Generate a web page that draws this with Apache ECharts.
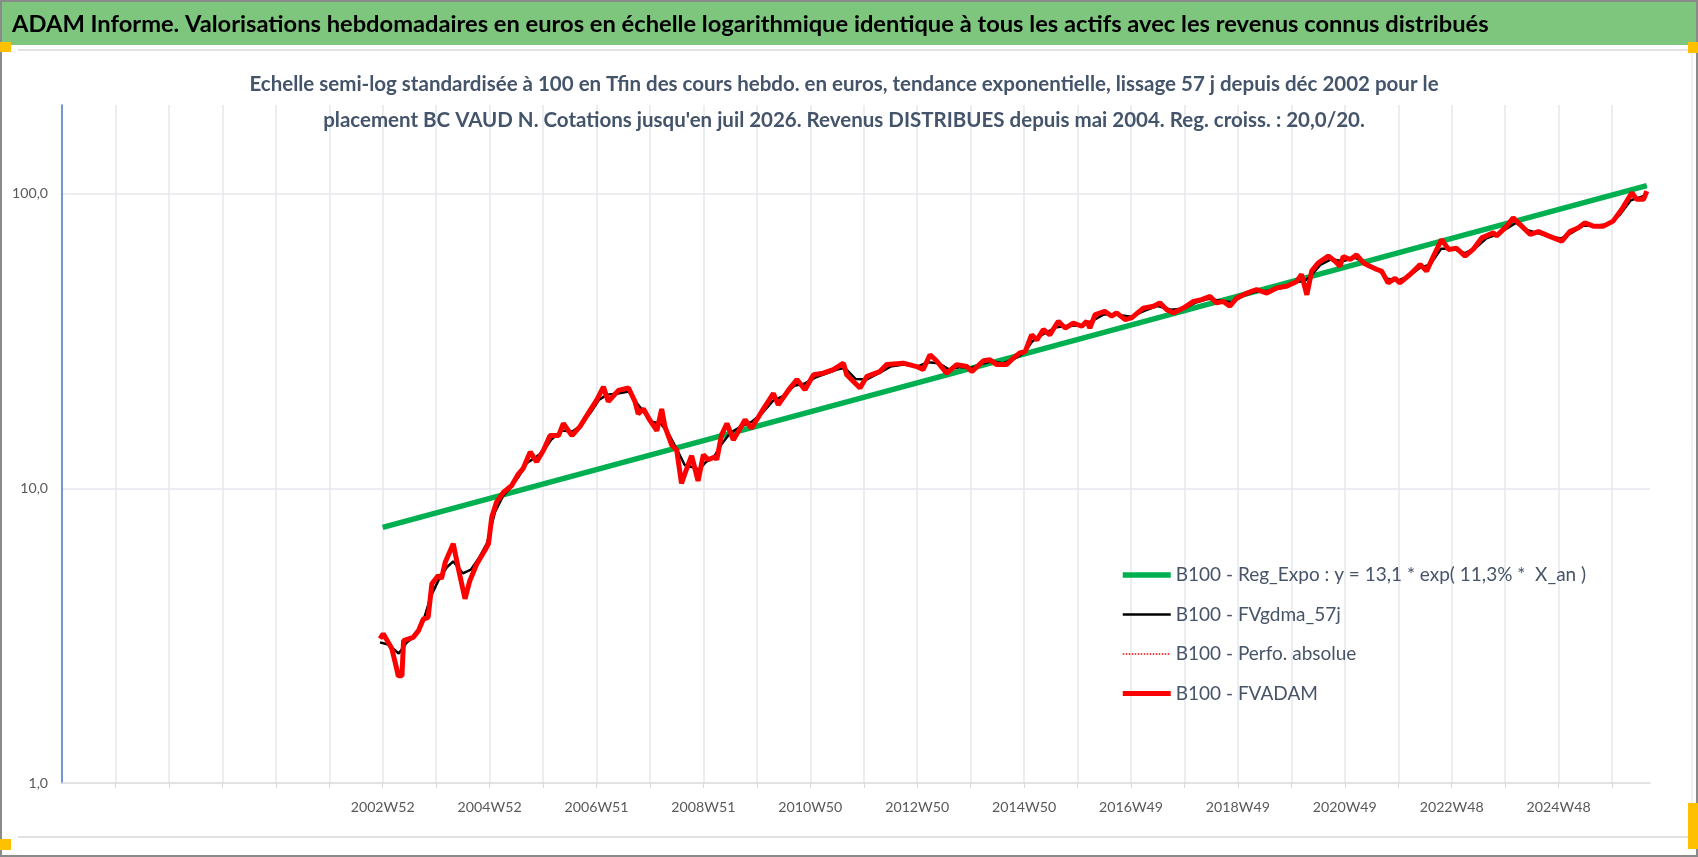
<!DOCTYPE html>
<html>
<head>
<meta charset="utf-8">
<title>ADAM Informe - BC VAUD N</title>
<script src="https://cdn.jsdelivr.net/npm/echarts@6/dist/echarts.min.js"></script>
<style>
  html, body { margin: 0; padding: 0; background: #fff; }
  #chart { width: 1698px; height: 857px; }
</style>
</head>
<body>
<div id="chart"></div>
<script>
// textes
var mainTitle = 'ADAM Informe. Valorisations hebdomadaires en euros en échelle logarithmique identique à tous les actifs avec les revenus connus distribués';
var subTitle1 = 'Echelle semi-log standardisée à 100 en Tfin des cours hebdo. en euros, tendance exponentielle, lissage 57 j depuis déc 2002 pour le';
var subTitle2 = 'placement BC VAUD N. Cotations jusqu\'en juil 2026. Revenus DISTRIBUES depuis mai 2004. Reg. croiss. : 20,0/20.';

// libellés de l'axe X (un tous les 2 ans, à partir de fin 2002)
var xTickLabels = ['2002W52', '2004W52', '2006W51', '2008W51', '2010W50', '2012W50',
  '2014W50', '2016W49', '2018W49', '2020W49', '2022W48', '2024W48'];

var seriesNames = [
  'B100 - Reg_Expo : y = 13,1 * exp( 11,3% *  X_an )',
  'B100 - FVgdma_57j',
  'B100 - Perfo. absolue',
  'B100 - FVADAM'
];

// tendance exponentielle (droite en échelle log) : [année, valeur]
var trendData = [[2003.0, 7.37], [2026.65, 106.5]];

// FVADAM : [année, valeur]
var fvadamData = [
  [2002.95, 3.09], [2003.01, 3.21], [2003.17, 2.86], [2003.26, 2.45], [2003.29, 2.31],
  [2003.36, 2.31], [2003.39, 3.04], [2003.57, 3.12], [2003.67, 3.29], [2003.76, 3.6],
  [2003.85, 3.65], [2003.92, 4.74], [2004.04, 5.06], [2004.10, 4.94], [2004.17, 5.61],
  [2004.32, 6.48], [2004.41, 5.4], [2004.54, 4.22], [2004.63, 4.86], [2004.76, 5.54],
  [2004.91, 6.15], [2004.98, 6.5], [2005.04, 7.98], [2005.13, 8.98], [2005.26, 9.7],
  [2005.41, 10.2], [2005.54, 11.2], [2005.63, 11.7], [2005.76, 13.3], [2005.88, 12.3],
  [2006.01, 13.5], [2006.13, 15.1], [2006.29, 15.1], [2006.38, 16.6], [2006.54, 15.1],
  [2006.69, 16.2], [2006.88, 18.4], [2007.00, 19.9], [2007.13, 22.1], [2007.22, 19.7],
  [2007.41, 21.5], [2007.60, 21.9], [2007.72, 19.7], [2007.78, 17.9], [2007.88, 18.6],
  [2008.00, 17.0], [2008.13, 15.7], [2008.22, 18.6], [2008.28, 16.2], [2008.41, 14.0],
  [2008.50, 13.5], [2008.59, 10.4], [2008.69, 11.7], [2008.78, 12.9], [2008.90, 10.6],
  [2009.00, 13.0], [2009.09, 12.5], [2009.22, 12.8], [2009.25, 12.5], [2009.34, 15.2],
  [2009.44, 16.6], [2009.56, 14.6], [2009.78, 17.1], [2009.90, 16.0], [2010.09, 18.2],
  [2010.31, 21.0], [2010.40, 19.2], [2010.62, 21.9], [2010.75, 23.4], [2010.90, 21.6],
  [2011.06, 24.3], [2011.24, 24.6], [2011.43, 25.3], [2011.62, 26.6], [2011.68, 24.3],
  [2011.93, 21.9], [2012.06, 24.0], [2012.30, 24.9], [2012.43, 26.3], [2012.74, 26.6],
  [2012.99, 25.9], [2013.11, 25.3], [2013.24, 28.4], [2013.36, 27.1], [2013.55, 24.6],
  [2013.74, 26.3], [2013.93, 25.9], [2014.02, 24.9], [2014.24, 27.1], [2014.36, 27.3],
  [2014.49, 26.3], [2014.67, 26.3], [2014.80, 27.7], [2014.92, 28.8], [2015.02, 29.1],
  [2015.14, 33.2], [2015.24, 31.9], [2015.36, 34.6], [2015.48, 33.2], [2015.64, 36.9],
  [2015.77, 35.0], [2015.92, 36.4], [2016.08, 35.5], [2016.17, 36.9], [2016.23, 35.0],
  [2016.33, 38.9], [2016.51, 39.9], [2016.64, 38.4], [2016.73, 39.4], [2016.89, 37.4],
  [2017.01, 37.9], [2017.23, 40.9], [2017.42, 41.5], [2017.54, 42.6], [2017.67, 40.4],
  [2017.79, 39.4], [2017.98, 40.9], [2018.17, 43.1], [2018.32, 43.7], [2018.48, 44.8],
  [2018.60, 42.6], [2018.73, 43.1], [2018.85, 41.5], [2018.98, 44.3], [2019.17, 46.0],
  [2019.35, 47.3], [2019.54, 46.0], [2019.73, 47.9], [2019.91, 48.5], [2020.10, 50.4],
  [2020.19, 53.2], [2020.29, 45.4], [2020.38, 54.6], [2020.50, 58.2], [2020.69, 61.4],
  [2020.82, 59.0], [2020.91, 56.7], [2020.97, 61.2], [2021.10, 59.8], [2021.22, 62.0],
  [2021.35, 58.2], [2021.47, 56.7], [2021.60, 55.3], [2021.69, 54.6], [2021.81, 49.8],
  [2021.94, 51.6], [2022.03, 49.8], [2022.22, 53.2], [2022.41, 57.5], [2022.53, 54.6],
  [2022.66, 61.4], [2022.81, 69.9], [2022.94, 64.7], [2023.09, 65.3], [2023.25, 61.4],
  [2023.40, 64.7], [2023.56, 70.8], [2023.78, 73.6], [2023.84, 71.9], [2024.03, 77.6],
  [2024.15, 82.8], [2024.31, 77.6], [2024.47, 72.7], [2024.62, 74.4], [2024.81, 71.9],
  [2025.06, 69.0], [2025.21, 74.4], [2025.37, 76.6], [2025.49, 79.6], [2025.65, 77.6],
  [2025.84, 77.6], [2026.02, 80.7], [2026.18, 88.4], [2026.37, 100.8], [2026.46, 95.7],
  [2026.59, 95.7], [2026.65, 102.0]
];

// FVgdma_57j (moyenne lissée) : [année, valeur]
var gdmaData = [
  [2002.95, 3.0], [2003.1, 2.95], [2003.3, 2.75], [2003.45, 3.0], [2003.6, 3.15],
  [2003.75, 3.5], [2003.9, 4.3], [2004.05, 4.9], [2004.2, 5.4], [2004.32, 5.65],
  [2004.5, 5.15], [2004.65, 5.3], [2004.8, 5.8], [2004.95, 6.5], [2005.1, 8.3],
  [2005.25, 9.4], [2005.4, 10.1], [2005.55, 11.0], [2005.7, 12.2], [2005.85, 12.7],
  [2006.0, 13.3], [2006.15, 14.6], [2006.35, 15.7], [2006.55, 15.6], [2006.7, 16.3],
  [2006.9, 18.2], [2007.05, 20.0], [2007.2, 20.8], [2007.4, 21.0], [2007.6, 21.3],
  [2007.75, 19.5], [2007.9, 18.0], [2008.05, 16.8], [2008.2, 16.6], [2008.35, 15.3],
  [2008.5, 13.6], [2008.65, 12.0], [2008.8, 11.8], [2008.92, 11.6], [2009.05, 12.3],
  [2009.2, 12.8], [2009.35, 14.2], [2009.5, 15.4], [2009.7, 16.2], [2009.9, 16.8],
  [2010.1, 18.0], [2010.3, 19.8], [2010.5, 20.6], [2010.7, 22.3], [2010.9, 22.7],
  [2011.1, 23.8], [2011.3, 24.5], [2011.5, 25.3], [2011.65, 25.6], [2011.85, 23.5],
  [2012.05, 23.4], [2012.3, 24.7], [2012.5, 25.9], [2012.75, 26.3], [2013.0, 25.9],
  [2013.2, 26.8], [2013.4, 26.6], [2013.6, 25.3], [2013.8, 25.8], [2014.0, 25.6],
  [2014.2, 26.4], [2014.4, 27.0], [2014.6, 26.6], [2014.8, 27.4], [2015.0, 28.8],
  [2015.15, 31.5], [2015.35, 33.3], [2015.6, 35.2], [2015.85, 35.6], [2016.1, 35.8],
  [2016.3, 37.2], [2016.5, 39.0], [2016.75, 38.8], [2017.0, 38.2], [2017.25, 40.0],
  [2017.5, 41.6], [2017.75, 40.4], [2018.0, 40.8], [2018.2, 42.6], [2018.45, 44.0],
  [2018.7, 43.2], [2018.9, 42.8], [2019.1, 45.0], [2019.35, 46.6], [2019.6, 46.8],
  [2019.85, 48.0], [2020.1, 50.2], [2020.25, 50.5], [2020.4, 53.5], [2020.55, 57.5],
  [2020.75, 60.0], [2020.95, 59.0], [2021.2, 60.6], [2021.4, 58.0], [2021.6, 55.6],
  [2021.8, 51.5], [2022.0, 50.8], [2022.2, 52.5], [2022.4, 56.0], [2022.6, 57.5],
  [2022.8, 65.0], [2023.0, 65.2], [2023.25, 62.8], [2023.45, 65.5], [2023.65, 70.5],
  [2023.85, 72.8], [2024.05, 76.5], [2024.2, 79.5], [2024.4, 75.5], [2024.6, 73.5],
  [2024.85, 71.5], [2025.05, 70.5], [2025.25, 73.8], [2025.45, 77.8], [2025.7, 77.8],
  [2025.95, 79.0], [2026.15, 85.0], [2026.35, 95.0], [2026.5, 97.0], [2026.65, 99.0]
];

// taille de police ajustée sur la largeur mesurée dans l'original
var FONT = 'Lato, "Noto Sans", sans-serif';
function fitSize(text, weight, width) {
  var ctx = document.createElement('canvas').getContext('2d');
  ctx.font = weight + ' 100px ' + FONT;
  return Math.round(1000 * width / ctx.measureText(text).width) / 10;
}
var titleSize = fitSize(mainTitle, 'bold', 1480);
var subSize = fitSize(subTitle1, 'bold', 1188);
var legendSize = fitSize('B100 - FVADAM', 'normal', 142);
var xLabelSize = fitSize('2002W52', 'normal', 64);
var yLabelSize = fitSize('100,0', 'normal', 36);

var chart = echarts.init(document.getElementById('chart'));

var option = {
  animation: false,
  backgroundColor: '#fff',
  graphic: [
    // cadre
    { type: 'rect', shape: { x: 1, y: 1, width: 1696, height: 855 },
      style: { fill: 'none', stroke: '#8a8a8a', lineWidth: 2 }, z: 0 },
    { type: 'rect', shape: { x: 2, y: 2, width: 1694, height: 43 },
      style: { fill: '#7ec57e' }, z: 0 },
    { type: 'line', shape: { x1: 18, y1: 50, x2: 1692, y2: 50 },
      style: { stroke: '#e2e2e2', lineWidth: 2 }, z: 0 },
    { type: 'line', shape: { x1: 18, y1: 837, x2: 1692, y2: 837 },
      style: { stroke: '#e2e2e2', lineWidth: 2 }, z: 0 },
    { type: 'line', shape: { x1: 1692, y1: 50, x2: 1692, y2: 837 },
      style: { stroke: '#e2e2e2', lineWidth: 1 }, z: 0 },
    // poignées orange
    { type: 'rect', shape: { x: 0, y: 42, width: 11, height: 10 }, style: { fill: '#ffc000' }, z: 1 },
    { type: 'rect', shape: { x: 1688, y: 42, width: 10, height: 11 }, style: { fill: '#ffc000' }, z: 1 },
    { type: 'rect', shape: { x: 0, y: 839, width: 11, height: 11 }, style: { fill: '#ffc000' }, z: 1 },
    { type: 'rect', shape: { x: 1688, y: 803, width: 10, height: 46 }, style: { fill: '#ffc000' }, z: 1 },
    // titres
    { type: 'text', x: 12, y: 24, z: 5,
      style: { text: mainTitle, fill: '#000', font: 'bold ' + titleSize + 'px ' + FONT,
        align: 'left', verticalAlign: 'middle' } },
    { type: 'text', x: 844, y: 84, z: 5,
      style: { text: subTitle1, fill: '#44546a', font: 'bold ' + subSize + 'px ' + FONT,
        align: 'center', verticalAlign: 'middle' } },
    { type: 'text', x: 844, y: 120, z: 5,
      style: { text: subTitle2, fill: '#44546a', font: 'bold ' + subSize + 'px ' + FONT,
        align: 'center', verticalAlign: 'middle' } }
  ],
  grid: {
    left: 62,
    right: 48,
    top: 105,
    bottom: 74
  },
  legend: {
    orient: 'vertical',
    left: 1120,
    top: 565,
    padding: 0,
    itemWidth: 48,
    itemHeight: 20,
    itemGap: 19.5,
    data: seriesNames,
    itemStyle: { opacity: 0 },
    lineStyle: { width: 'inherit' },
    textStyle: {
      color: '#475468',
      fontFamily: FONT,
      fontSize: legendSize,
      lineHeight: 20
    }
  },
  xAxis: {
    type: 'value',
    min: 1997,
    max: 2026.71,
    interval: 1,
    axisLine: { lineStyle: { color: '#d9d9d9', width: 1.5 } },
    axisTick: { show: true, length: 5, lineStyle: { color: '#d9d9d9' } },
    splitLine: {
      show: true,
      showMinLine: false,
      showMaxLine: false,
      lineStyle: { color: '#e4e7ec', width: 1.5 }
    },
    axisLabel: {
      margin: 17,
      color: '#595959',
      fontFamily: FONT,
      fontSize: xLabelSize,
      showMinLabel: false,
      showMaxLabel: false,
      formatter: function (v) {
        var k = (v - 2003) / 2;
        var r = Math.round(k);
        if (Math.abs(k - r) < 1e-6 && r >= 0 && r < xTickLabels.length) {
          return xTickLabels[r];
        }
        return '';
      }
    }
  },
  yAxis: {
    type: 'log',
    logBase: 10,
    min: 1,
    max: 200,
    axisLine: { show: true, lineStyle: { color: '#4472c4', width: 1.5 } },
    axisTick: { show: false },
    splitLine: {
      show: true,
      showMinLine: false,
      showMaxLine: false,
      lineStyle: { color: '#e4e7ec', width: 1.5 }
    },
    axisLabel: {
      margin: 14,
      color: '#595959',
      fontFamily: FONT,
      fontSize: yLabelSize,
      showMaxLabel: false,
      formatter: function (v) {
        var l = Math.log(v) / Math.LN10;
        if (Math.abs(l - Math.round(l)) > 1e-6) return '';
        return v.toFixed(1).replace('.', ',');
      }
    }
  },
  series: [
    {
      name: seriesNames[0],
      type: 'line',
      data: trendData,
      symbol: 'none',
      color: '#00b050',
      lineStyle: { color: '#00b050', width: 5.5 }
    },
    {
      name: seriesNames[1],
      type: 'line',
      data: gdmaData,
      symbol: 'none',
      color: '#000',
      lineStyle: { color: '#000', width: 2.5 }
    },
    {
      name: seriesNames[2],
      type: 'line',
      data: fvadamData,
      symbol: 'none',
      color: '#ff0000',
      lineStyle: { color: '#ff0000', width: 1.5, type: 'dotted' }
    },
    {
      name: seriesNames[3],
      type: 'line',
      data: fvadamData,
      symbol: 'none',
      color: '#ff0000',
      lineStyle: { color: '#ff0000', width: 5 }
    }
  ]
};

chart.setOption(option);
</script>
</body>
</html>
